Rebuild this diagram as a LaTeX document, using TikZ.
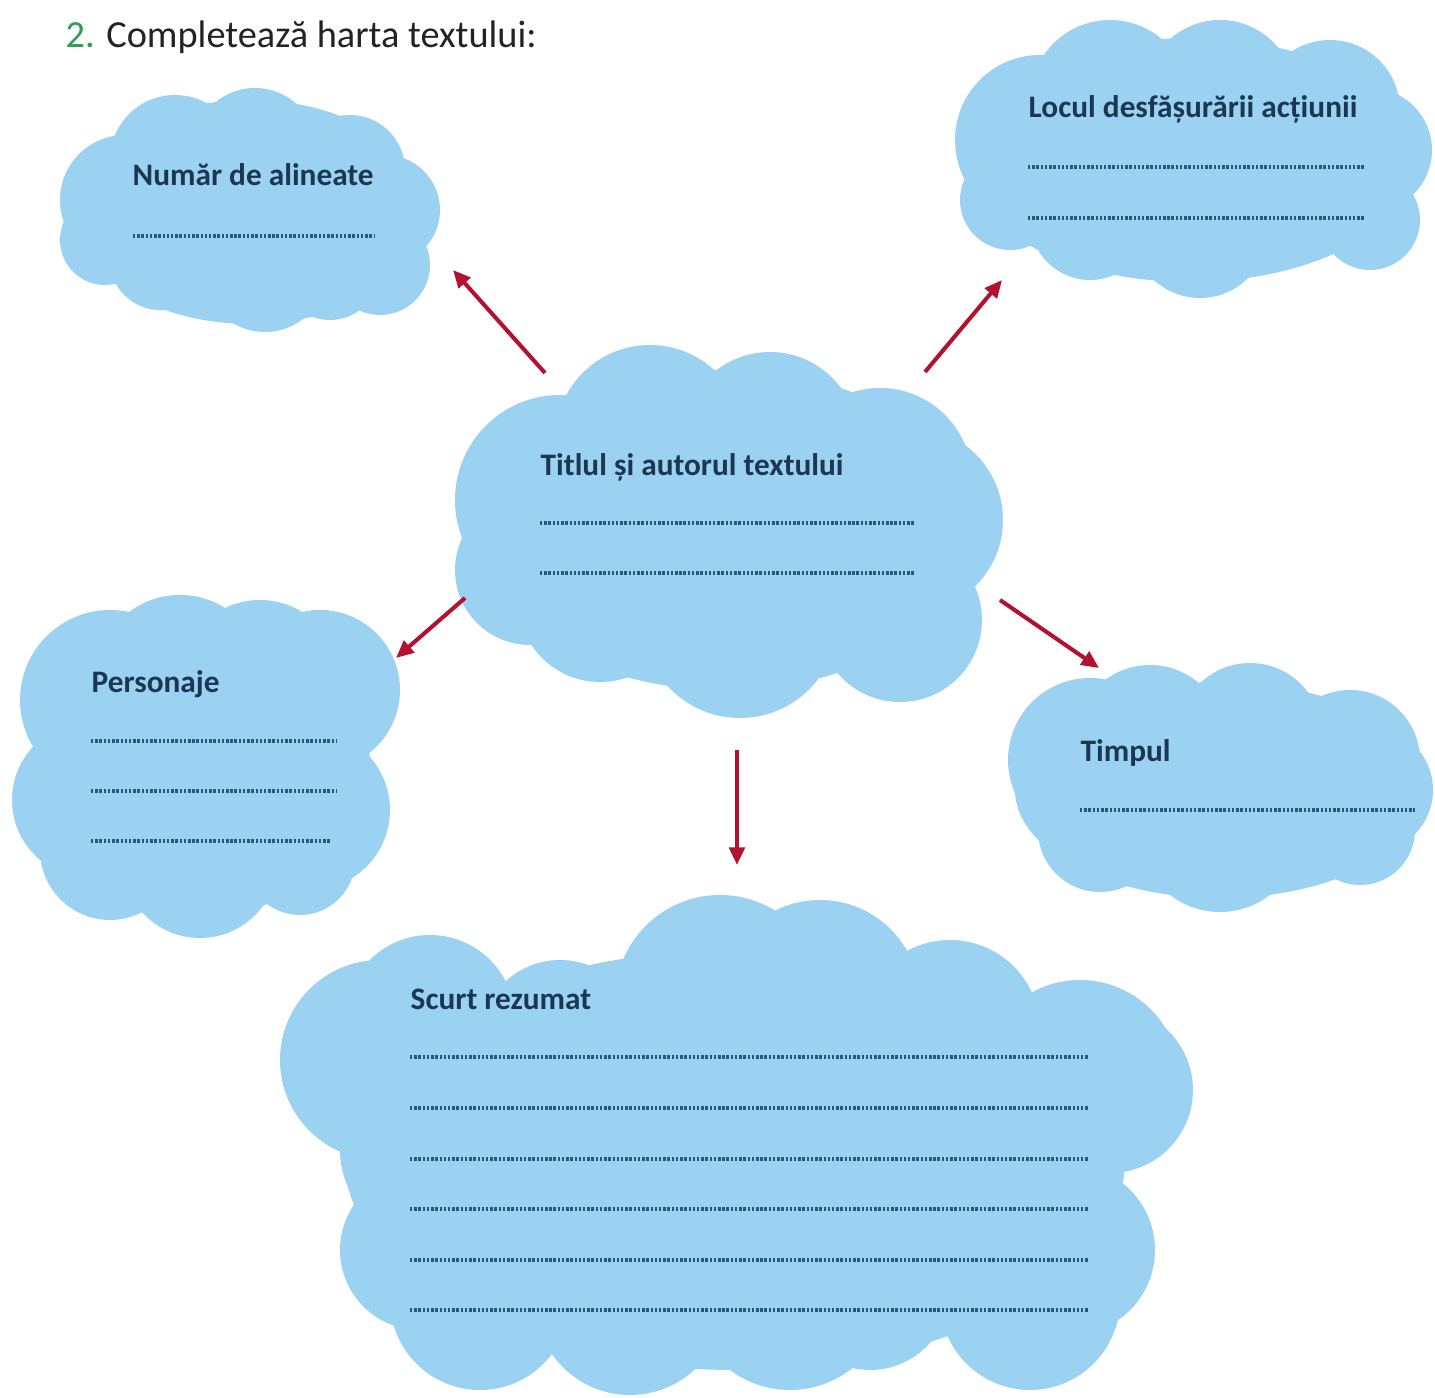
\documentclass[tikz,border=0pt]{standalone}
\usepackage{fontspec}
\setmainfont{Carlito}
\usetikzlibrary{arrows.meta}
\definecolor{cloudblue}{RGB}{155,209,241}
\definecolor{labelblue}{RGB}{27,55,84}
\definecolor{dotblue}{RGB}{40,86,124}
\definecolor{arrowred}{RGB}{178,18,48}
\definecolor{numgreen}{RGB}{46,158,79}
\definecolor{taskgray}{RGB}{35,35,35}

\begin{document}
\begin{tikzpicture}[x=0.01cm, y=-0.01cm]
    % cloud pieces
    \tikzstyle{cloud}=[fill=cloudblue]
    % headings inside the clouds
    \tikzstyle{lbl}=[inner sep=0, anchor=base west, text=labelblue, font=\bfseries\fontsize{8.9}{10}\selectfont]
    % lines to write on
    \tikzstyle{dots}=[draw=dotblue, line width=1pt, dash pattern=on .7pt off .5pt]
    % red arrows
    \tikzstyle{link}=[draw=arrowred, line width=1.15pt, -{Triangle[length=5pt,width=4.4pt]}]
    \useasboundingbox (0,0) rectangle (1435,1398);

    \node[inner sep=0, anchor=base west, text=taskgray, font=\fontsize{10.9}{13}\selectfont] (task) at (65,48)
        {\textcolor{numgreen}{2.} Completează harta textului:};

    % cloud: numar de alineate
    \fill[cloud] (250,212) ellipse [x radius=175, y radius=112];
    \foreach \cx/\cy/\r in {125/200/65, 175/160/65, 255/150/62, 350/170/55, 385/210/55,
                            380/265/50, 265/270/62, 160/260/50, 105/240/45, 330/270/50}
        \fill[cloud] (\cx,\cy) circle (\r);
    % cloud: locul
    \fill[cloud] (1190,160) ellipse [x radius=225, y radius=122];
    \foreach \cx/\cy/\r in {1040/140/85, 1110/100/80, 1220/95/75, 1330/110/70, 1370/150/62,
                            1370/220/50, 1280/210/50, 1200/230/68, 1090/220/60, 1010/200/50}
        \fill[cloud] (\cx,\cy) circle (\r);
    % cloud: titlul (center)
    \fill[cloud] (725,530) ellipse [x radius=250, y radius=160];
    \foreach \cx/\cy/\r in {560/500/105, 650/440/95, 770/440/88, 880/480/92, 910/520/93,
                            900/620/82, 740/620/98, 600/600/82, 530/570/75}
        \fill[cloud] (\cx,\cy) circle (\r);
    % cloud: personaje
    \fill[cloud] (205,765) ellipse [x radius=165, y radius=150];
    \foreach \cx/\cy/\r in {110/700/90, 180/680/85, 260/680/80, 320/690/80, 310/810/80,
                            300/860/55, 200/860/78, 110/850/70, 90/800/78}
        \fill[cloud] (\cx,\cy) circle (\r);
    % cloud: timpul
    \fill[cloud] (1220,790) ellipse [x radius=205, y radius=108];
    \foreach \cx/\cy/\r in {1090/760/82, 1150/740/75, 1250/735/72, 1350/760/70, 1370/790/63,
                            1360/830/55, 1220/830/82, 1100/830/62}
        \fill[cloud] (\cx,\cy) circle (\r);
    % cloud: scurt rezumat
    \fill[cloud] (735,1160) ellipse [x radius=390, y radius=210];
    \foreach \cx/\cy/\r in {380/1060/100, 430/1020/85, 560/1040/80, 720/1000/105, 820/1000/100,
                            950/1030/90, 1080/1080/100, 1110/1090/83, 1070/1250/85, 1030/1300/90,
                            870/1290/80, 790/1290/100, 630/1300/95, 480/1300/90, 420/1250/80,
                            430/1150/90}
        \fill[cloud] (\cx,\cy) circle (\r);

    % headings
    \node[lbl] (numar) at (132,186) {Număr de alineate};
    \node[lbl] (locul) at (1028,118) {Locul desfășurării acțiunii};
    \node[lbl] (titlul) at (540,476) {Titlul și autorul textului};
    \node[lbl] (pers) at (91,693) {Personaje};
    \node[lbl] (timpul) at (1080,762) {Timpul};
    \node[lbl] (scurt) at (410,1010) {Scurt rezumat};

    % dotted lines
    \draw[dots] (133,236) -- (375,236);
    \foreach \y in {167,218}
        \draw[dots] (1028,\y) -- (1365,\y);
    \foreach \y in {523,573}
        \draw[dots] (540,\y) -- (915,\y);
    \foreach \y/\e in {741/336, 791/336, 841/330}
        \draw[dots] (91,\y) -- (\e,\y);
    \draw[dots] (1080,810) -- (1415,810);
    \foreach \y in {1057,1108,1159,1209,1260,1310}
        \draw[dots] (410,\y) -- (1088,\y);

    % arrow ends
    \coordinate (nw0) at (545,373);  \coordinate (nw1) at (453,270);
    \coordinate (ne0) at (925,372);  \coordinate (ne1) at (1002,280);
    \coordinate (sw0) at (465,598);  \coordinate (sw1) at (396,658);
    \coordinate (se0) at (1000,600); \coordinate (se1) at (1099,668);
    \coordinate (s0) at (737,750);   \coordinate (s1) at (737,865);
    \draw[link] (nw0) -- (nw1);
    \draw[link] (ne0) -- (ne1);
    \draw[link] (sw0) -- (sw1);
    \draw[link] (se0) -- (se1);
    \draw[link] (s0) -- (s1);
\end{tikzpicture}
\end{document}
